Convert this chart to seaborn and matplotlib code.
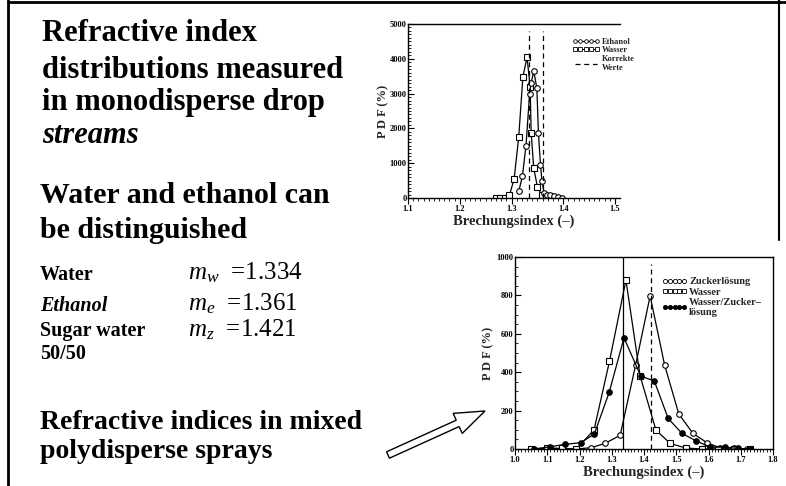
import matplotlib
matplotlib.use('Agg')
import matplotlib.pyplot as plt
import seaborn as sns
import numpy as np
import pandas as pd
from matplotlib.lines import Line2D
from matplotlib.patches import FancyArrow
from matplotlib.transforms import IdentityTransform
from matplotlib.ticker import MultipleLocator

# ---------------- data ----------------
# top chart: monodisperse drop streams
top_ethanol_x = [1.314, 1.321, 1.328, 1.335, 1.338, 1.343, 1.349, 1.352, 1.356, 1.359, 1.363, 1.368, 1.375, 1.382, 1.390, 1.398]
top_ethanol_y = [190, 620, 1500, 3000, 3300, 3650, 3150, 1880, 950, 480, 150, 80, 90, 60, 20, 0]
top_wasser_x = [1.270, 1.278, 1.287, 1.296, 1.305, 1.314, 1.322, 1.330, 1.336, 1.338, 1.343, 1.350, 1.358, 1.366, 1.374]
top_wasser_y = [0, 0, 10, 80, 540, 1760, 3480, 4050, 3200, 1880, 850, 330, 80, 20, 0]
top_correct = [1.334, 1.361]
top_xticks = [1.1, 1.2, 1.3, 1.4, 1.5]
top_yticks = [0, 1000, 2000, 3000, 4000, 5000]

# bottom chart: mixed polydisperse sprays
bot_zucker_x = [1.05, 1.10, 1.15, 1.19, 1.237, 1.28, 1.326, 1.374, 1.419, 1.464, 1.508, 1.552, 1.595, 1.637, 1.68, 1.72]
bot_zucker_y = [0, 3, 2, 0, 7, 30, 71, 437, 797, 437, 182, 81, 33, 5, 5, 0]
bot_wasser_x = [1.05, 1.10, 1.145, 1.19, 1.245, 1.293, 1.344, 1.388, 1.437, 1.481, 1.53, 1.58, 1.63, 1.68, 1.73]
bot_wasser_y = [0, 5, 3, 0, 99, 457, 879, 380, 99, 29, 5, 0, 0, 0, 0]
bot_mix_x = [1.06, 1.109, 1.155, 1.204, 1.246, 1.292, 1.338, 1.39, 1.432, 1.475, 1.518, 1.562, 1.606, 1.65, 1.69, 1.73]
bot_mix_y = [0, 12, 24, 33, 78, 295, 579, 380, 354, 159, 81, 42, 9, 10, 3, 0]
bot_water_line = 1.334
bot_sugar_line = 1.421
bot_xticks = [1.0, 1.1, 1.2, 1.3, 1.4, 1.5, 1.6, 1.7, 1.8]
bot_yticks = [0, 200, 400, 600, 800, 1000]

# ---------------- style ----------------
sns.set_theme(style='ticks')
plt.rcParams['font.family'] = ['Liberation Serif', 'DejaVu Serif']
plt.rcParams['mathtext.fontset'] = 'custom'
plt.rcParams['mathtext.rm'] = 'Liberation Serif'
plt.rcParams['mathtext.it'] = 'Liberation Serif:italic'
plt.rcParams['axes.linewidth'] = 1.0

W, H = 786, 486
fig = plt.figure(figsize=(W / 100, H / 100), dpi=100)
fig.patch.set_facecolor('white')


def box(l, t, r, b):
    return [l / W, 1 - b / H, (r - l) / W, (b - t) / H]


def style_axes(ax, fs=6):
    ax.set_facecolor('white')
    for s in ax.spines.values():
        s.set_color('black')
    ax.tick_params(axis='y', which='both', direction='in', colors='black', labelsize=fs, pad=1)
    ax.tick_params(axis='x', which='both', direction='out', colors='black', labelsize=fs, pad=1)
    ax.tick_params(which='major', length=4, width=0.8)
    ax.tick_params(which='minor', length=2, width=0.6)
    for lab in ax.get_xticklabels() + ax.get_yticklabels():
        lab.set_fontweight('bold')


def series(ax, x, y, marker, mfc):
    df = pd.DataFrame({'x': x, 'y': y})
    sns.lineplot(data=df, x='x', y='y', ax=ax, color='black', linewidth=0.9,
                 marker=marker, markersize=4, markerfacecolor=mfc,
                 markeredgecolor='black', markeredgewidth=0.8,
                 sort=False, estimator=None, legend=False)

# ---------------- top chart ----------------
ax1 = fig.add_axes(box(408, 24, 620, 198))
series(ax1, top_wasser_x, top_wasser_y, 's', 'white')
series(ax1, top_ethanol_x, top_ethanol_y, 'o', 'white')
ax1.vlines(top_correct, 0, 4800, colors='black', linestyles=(0, (4, 3)), linewidth=0.9)
ax1.set_xlim(1.1, 1.1 + (620 - 408) / 517.5)
ax1.set_ylim(0, 5000)
ax1.set_xticks(top_xticks)
ax1.set_xticklabels([f'{v:.1f}' for v in top_xticks])
ax1.set_yticks(top_yticks)
ax1.set_yticklabels([str(v) for v in top_yticks])
ax1.xaxis.set_minor_locator(MultipleLocator(0.01))
ax1.yaxis.set_minor_locator(MultipleLocator(100))
ax1.spines['right'].set_visible(False)
style_axes(ax1, 6)
ax1.set_xlabel('Brechungsindex (–)', fontsize=10.5, fontweight='bold', labelpad=1)
ax1.set_ylabel('P D F (%)', fontsize=9, fontweight='bold', labelpad=0)
h1 = [Line2D([], [], color='black', lw=0.8, marker='o', ms=2.6, mfc='white', mec='black', mew=0.6),
      Line2D([], [], color='black', lw=0.8, marker='s', ms=2.6, mfc='white', mec='black', mew=0.6),
      Line2D([], [], color='black', lw=0.9, ls=(0, (4, 3)))]
leg1 = ax1.legend(h1, ['Ethanol', 'Wasser', 'Korrekte\nWerte'], numpoints=5, frameon=False,
                  loc='upper left', bbox_to_anchor=((572 - 408) / 212, (198 - 38) / 174),
                  prop={'size': 6, 'weight': 'bold'}, handlelength=3.3, handletextpad=0.3,
                  labelspacing=0.05, borderaxespad=0, borderpad=0)

# ---------------- bottom chart ----------------
ax2 = fig.add_axes(box(515, 257, 773, 449))
series(ax2, bot_zucker_x, bot_zucker_y, 'o', 'white')
series(ax2, bot_wasser_x, bot_wasser_y, 's', 'white')
series(ax2, bot_mix_x, bot_mix_y, 'o', 'black')
ax2.axvline(bot_water_line, color='black', lw=0.9)
ax2.vlines([bot_sugar_line], 0, 965, colors='black', linestyles=(0, (4, 3)), linewidth=0.9)
ax2.set_xlim(1.0, 1.8)
ax2.set_ylim(0, 1000)
ax2.set_xticks(bot_xticks)
ax2.set_xticklabels([f'{v:.1f}' for v in bot_xticks])
ax2.set_yticks(bot_yticks)
ax2.set_yticklabels([str(v) for v in bot_yticks])
ax2.xaxis.set_minor_locator(MultipleLocator(0.01))
ax2.yaxis.set_minor_locator(MultipleLocator(50))
style_axes(ax2, 6)
ax2.set_xlabel('Brechungsindex (–)', fontsize=10.5, fontweight='bold', labelpad=1)
ax2.set_ylabel('P D F (%)', fontsize=9, fontweight='bold', labelpad=2)
h2 = [Line2D([], [], color='black', lw=0.8, marker='o', ms=3, mfc='white', mec='black', mew=0.6),
      Line2D([], [], color='black', lw=0.8, marker='s', ms=3, mfc='white', mec='black', mew=0.6),
      Line2D([], [], color='black', lw=0.8, marker='o', ms=3, mfc='black', mec='black', mew=0.6)]
leg2 = ax2.legend(h2, ['Zuckerlösung', 'Wasser', 'Wasser/Zucker–\nlösung'], numpoints=5,
                  frameon=False, loc='upper left',
                  bbox_to_anchor=((662 - 515) / 258, (449 - 277) / 192),
                  prop={'size': 7.5, 'weight': 'bold'}, handlelength=2.4, handletextpad=0.2,
                  labelspacing=0.1, borderaxespad=0, borderpad=0)

# ---------------- slide text ----------------
def big(size):
    return dict(fontsize=size, fontweight='bold', va='baseline', ha='left', color='black')

fig.text(42 / W, 1 - 41 / H, 'Refractive index', **big(22))
fig.text(42 / W, 1 - 78 / H, 'distributions measured', **big(22))
fig.text(42 / W, 1 - 110 / H, 'in monodisperse drop', **big(22))
fig.text(42 / W, 1 - 143 / H, 'streams', style='italic', **big(22))
fig.text(40 / W, 1 - 203 / H, 'Water and ethanol can', **big(21.5))
fig.text(40 / W, 1 - 238 / H, 'be distinguished', **big(21.5))
fig.text(40 / W, 1 - 429 / H, 'Refractive indices in mixed', **big(20))
fig.text(40 / W, 1 - 458 / H, 'polydisperse sprays', **big(20))

mid = dict(fontsize=14.5, fontweight='bold', va='baseline', ha='left', color='black')
fig.text(40 / W, 1 - 280 / H, 'Water', **mid)
fig.text(40 / W, 1 - 311 / H, 'Ethanol', style='italic', **mid)
fig.text(40 / W, 1 - 336 / H, 'Sugar water', **mid)
fig.text(40 / W, 1 - 359 / H, '50/50', **mid)

eq = dict(fontsize=18, va='baseline', ha='left', color='black')
fig.text(188 / W, 1 - 279 / H, r'$m_w$  =1.334', **eq)
fig.text(188 / W, 1 - 310 / H, r'$m_e$  =1.361', **eq)
fig.text(188 / W, 1 - 336 / H, r'$m_z$  =1.421', **eq)

# hollow arrow
arrow = FancyArrow(388, H - 455, 485 - 388, (H - 411) - (H - 455), width=7, head_width=22,
                   head_length=30, length_includes_head=True, facecolor='white',
                   edgecolor='black', linewidth=1, transform=IdentityTransform())
fig.add_artist(arrow)

# slide frame
fig.add_artist(Line2D([8 / W, 8 / W], [0, 1], transform=fig.transFigure, color='black', lw=2))
fig.add_artist(Line2D([8 / W, 1], [1 - 2 / H, 1 - 2 / H], transform=fig.transFigure, color='black', lw=2))
fig.add_artist(Line2D([779 / W, 779 / W], [1 - 240 / H, 1], transform=fig.transFigure, color='black', lw=1.5))

fig.savefig('out.png', dpi=100, facecolor='white')
